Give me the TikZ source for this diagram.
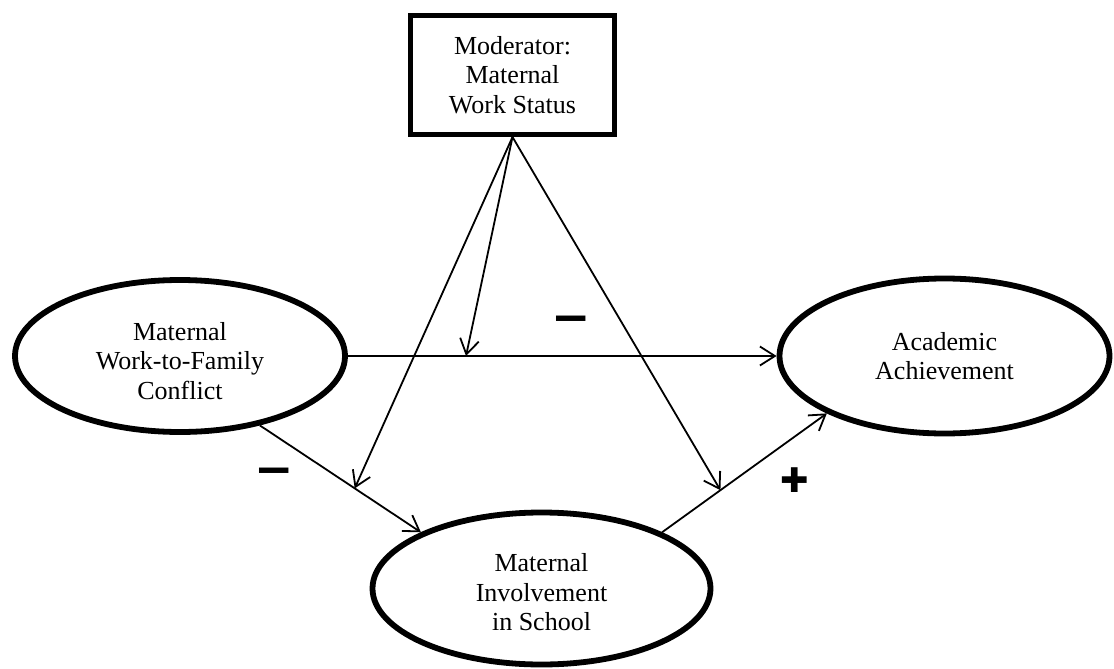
\documentclass[tikz,border=0pt]{standalone}
\usepackage{fontspec}
\setmainfont{Liberation Serif}
\newfontfamily\signfont{DejaVu Sans}
\usetikzlibrary{shapes.geometric,arrows.meta}
\begin{document}
\begin{tikzpicture}[x=1pt,y=-1pt,
  var/.style={ellipse,draw,line width=5.8pt,inner sep=0pt,align=center,
    font=\fontsize{26}{29.5}\selectfont},
  vartext/.style={align=center,inner sep=0pt,font=\fontsize{26}{29.5}\selectfont},
  modbox/.style={rectangle,draw,line width=5pt,inner sep=0pt,align=center,
    minimum width=204pt,minimum height=119pt,font=\fontsize{26}{29.5}\selectfont},
  conn/.style={line width=1.8pt,-{Straight Barb[length=15pt,width=19pt]}},
  minussign/.style={inner sep=0pt,font=\signfont\bfseries\fontsize{47}{47}\selectfont},
  plussign/.style={inner sep=0pt,font=\signfont\fontsize{34}{34}\selectfont}]
\useasboundingbox (0,0) rectangle (1114,669);

\node[modbox] (M) at (512.5,75) {Moderator:\\Maternal\\Work Status};
\node[var,minimum width=330pt,minimum height=152pt,
  label={[vartext,yshift=-5pt]center:Maternal\\Work-to-Family\\Conflict}] (L) at (180,356) {};
\node[var,minimum width=330pt,minimum height=155pt] (R) at (944.5,356) {Academic\\Achievement};
\node[var,minimum width=338pt,minimum height=152pt,
  label={[vartext,yshift=-4pt]center:Maternal\\Involvement\\in School}] (B) at (541.5,588.5) {};

\draw[conn] (L.east) -- coordinate[pos=0.2755] (h1) (R.west);
\draw[conn] (L.-41.2) -- coordinate[pos=0.589] (d1) (B.155.4);
\draw[conn] (B.25.7) -- coordinate[pos=0.354] (d2) (R.206.3);

\draw[conn] (M.south) -- (h1);
\draw[conn] (M.south) -- (d1);
\draw[conn] (M.south) -- (d2);

\node[minussign] (s1) at (571.5,324.5) {−};
\node[minussign] (s2) at (274.5,477) {−};
\node[plussign] (s3) at (795,480) {✚};
\end{tikzpicture}
\end{document}
